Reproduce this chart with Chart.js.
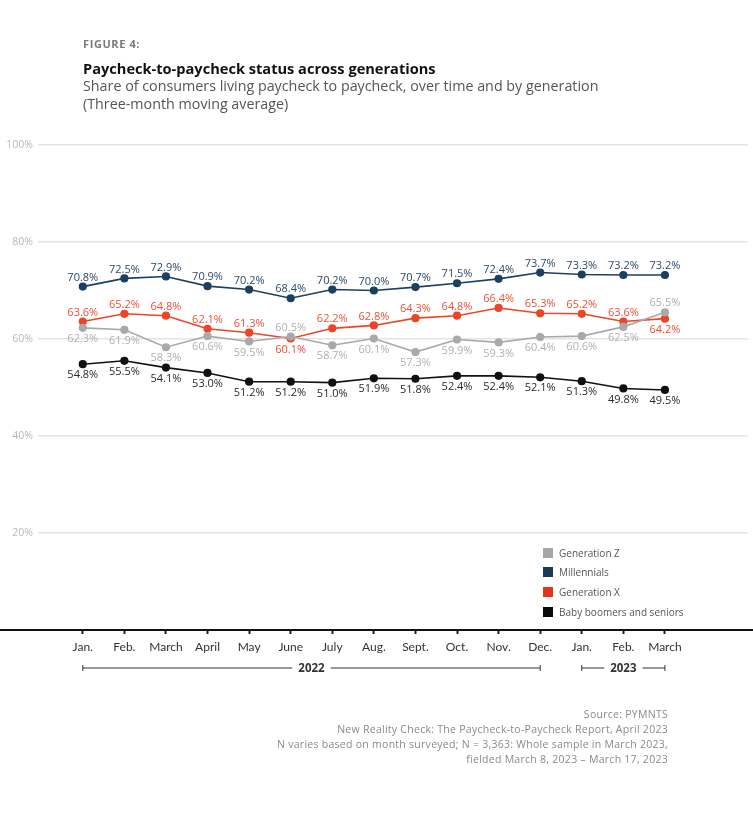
<!DOCTYPE html>
<html>
<head>
<meta charset="utf-8">
<script src="https://cdn.jsdelivr.net/npm/chart.js@4.4.0/dist/chart.umd.min.js"></script>
<style>
  html, body { margin: 0; padding: 0; background: #fff; }
  body { width: 753px; height: 820px; position: relative; overflow: hidden; font-family: "Open Sans", sans-serif; }
  #chartWrap { position: absolute; left: 0; top: 0; width: 753px; height: 820px; }
  .fig { position: absolute; left: 83px; top: 36px; font-size: 11px; font-weight: 700; color: #7a7a7a; letter-spacing: 0.6px; }
  .title { position: absolute; left: 83px; top: 58px; font-size: 14.6px; font-weight: 700; color: #111; }
  .sub { position: absolute; left: 83px; top: 77px; font-size: 14.3px; color: #555; line-height: 18px; }
  .legend { position: absolute; left: 543px; top: 543px; font-size: 10px; color: #555; }
  .legend div { height: 19.6px; display: flex; align-items: center; }
  .legend span.sw { display: inline-block; width: 10px; height: 10px; margin-right: 6px; }
  .source { position: absolute; right: 85px; top: 707px; text-align: right; font-size: 10.55px; color: #8a8a8a; line-height: 15px; letter-spacing: 0.25px; }
</style>
</head>
<body>
<div id="chartWrap"><canvas id="c" width="753" height="820"></canvas></div>
<div class="fig">FIGURE 4:</div>
<div class="title">Paycheck-to-paycheck status across generations</div>
<div class="sub">Share of consumers living paycheck to paycheck, over time and by generation<br>(Three-month moving average)</div>
<div class="legend" id="legend"></div>
<div class="source">Source: PYMNTS<br>New Reality Check: The Paycheck-to-Paycheck Report, April 2023<br>N varies based on month surveyed; N = 3,363: Whole sample in March 2023,<br>fielded March 8, 2023 – March 17, 2023</div>
<script>
const months = ['Jan.','Feb.','March','April','May','June','July','Aug.','Sept.','Oct.','Nov.','Dec.','Jan.','Feb.','March'];
const genZ = [62.3,61.9,58.3,60.6,59.5,60.5,58.7,60.1,57.3,59.9,59.3,60.4,60.6,62.5,65.5];
const millennials = [70.8,72.5,72.9,70.9,70.2,68.4,70.2,70.0,70.7,71.5,72.4,73.7,73.3,73.2,73.2];
const genX = [63.6,65.2,64.8,62.1,61.3,60.1,62.2,62.8,64.3,64.8,66.4,65.3,65.2,63.6,64.2];
const boomers = [54.8,55.5,54.1,53.0,51.2,51.2,51.0,51.9,51.8,52.4,52.4,52.1,51.3,49.8,49.5];
const yTicks = [20,40,60,80,100];
const yearGroups = [{label:'2022', from:0, to:11},{label:'2023', from:12, to:14}];

const seriesDefs = [
  {name:'Generation Z', data: genZ, color:'#a9a9a9', labelColor:'#b0b0b0', swatch:'#a6a6a6',
   pos: (i) => genZ[i] > genX[i] ? 'above' : 'below'},
  {name:'Millennials', data: millennials, color:'#1d3f60', labelColor:'#2c4a68', swatch:'#163a5c',
   pos: () => 'above'},
  {name:'Generation X', data: genX, color:'#ec4527', labelColor:'#ef4f33', swatch:'#e5361c',
   pos: (i) => genX[i] >= genZ[i] ? 'above' : 'below'},
  {name:'Baby boomers and seniors', data: boomers, color:'#111111', labelColor:'#2a2a2a', swatch:'#0a0a0a',
   pos: () => 'below'}
];

// legend
const lg = document.getElementById('legend');
seriesDefs.forEach(s => {
  const d = document.createElement('div');
  d.innerHTML = '<span class="sw" style="background:' + s.swatch + '"></span>' + s.name;
  lg.appendChild(d);
});

const drawOrder = [3,0,2,1];
const datasets = drawOrder.map(k => {
  const s = seriesDefs[k];
  return {
    label: s.name,
    data: s.data.map((v,i) => ({x:i, y:v})),
    borderColor: s.color,
    backgroundColor: s.color,
    pointBackgroundColor: s.color,
    pointBorderColor: s.color,
    borderWidth: 1.6,
    pointRadius: 3.3,
    pointHoverRadius: 3.3,
    tension: 0,
    _def: s
  };
});

const decoPlugin = {
  id: 'deco',
  beforeDatasetsDraw(chart) {
    const ctx = chart.ctx;
    const y = chart.scales.y.getPixelForValue(0);
    ctx.save();
    ctx.strokeStyle = '#111';
    ctx.lineWidth = 2;
    ctx.beginPath();
    ctx.moveTo(0, y); ctx.lineTo(chart.width, y);
    ctx.stroke();
    // year brackets
    const xs = chart.scales.x;
    const by = y + 38;
    ctx.font = 'bold 11.5px "Open Sans", sans-serif';
    ctx.textAlign = 'center';
    ctx.textBaseline = 'middle';
    ctx.lineWidth = 1;
    ctx.strokeStyle = '#333';
    ctx.fillStyle = '#333';
    yearGroups.forEach(g => {
      const x1 = xs.getPixelForValue(g.from), x2 = xs.getPixelForValue(g.to);
      const mid = (x1 + x2) / 2;
      const tw = ctx.measureText(g.label).width / 2 + 6;
      ctx.beginPath();
      ctx.moveTo(x1, by); ctx.lineTo(mid - tw, by);
      ctx.moveTo(mid + tw, by); ctx.lineTo(x2, by);
      ctx.moveTo(x1, by - 3); ctx.lineTo(x1, by + 3);
      ctx.moveTo(x2, by - 3); ctx.lineTo(x2, by + 3);
      ctx.stroke();
      ctx.fillText(g.label, mid, by + 0.5);
    });
    ctx.restore();
  },
  afterDatasetsDraw(chart) {
    const ctx = chart.ctx;
    ctx.save();
    ctx.font = '500 11px "Open Sans", sans-serif';
    ctx.textAlign = 'center';
    chart.data.datasets.forEach((ds, di) => {
      const meta = chart.getDatasetMeta(di);
      const s = ds._def;
      ctx.fillStyle = s.labelColor;
      meta.data.forEach((pt, i) => {
        const v = s.data[i];
        const txt = v.toFixed(1) + '%';
        if (s.pos(i) === 'above') {
          ctx.textBaseline = 'bottom';
          ctx.fillText(txt, pt.x, pt.y - 3.5);
        } else {
          ctx.textBaseline = 'top';
          ctx.fillText(txt, pt.x, pt.y + 5.5);
        }
      });
    });
    ctx.restore();
  }
};

new Chart(document.getElementById('c'), {
  type: 'line',
  data: { datasets },
  options: {
    responsive: false,
    animation: false,
    events: [],
    layout: { padding: { left: 0, right: 1, top: 145, bottom: 150 } },
    plugins: { legend: { display: false }, tooltip: { enabled: false } },
    scales: {
      x: {
        type: 'linear',
        min: -1.077,
        max: 16.0,
        afterBuildTicks: (scale) => { scale.ticks = months.map((m,i) => ({value: i})); },
        afterFit: (scale) => { scale.height = 40; },
        border: { display: false },
        grid: { drawOnChartArea: false, drawTicks: true, tickLength: 4, tickColor: '#222', tickWidth: 2 },
        ticks: {
          autoSkip: false,
          maxRotation: 0,
          padding: 6,
          color: '#333',
          font: { family: 'Lato', size: 12 },
          callback: (v) => months[v] ?? ''
        }
      },
      y: {
        min: 0,
        max: 100,
        afterBuildTicks: (scale) => { scale.ticks = [0].concat(yTicks).map(v => ({value: v})); },
        afterFit: (scale) => { scale.width = 38; },
        border: { display: false },
        grid: {
          drawTicks: false,
          lineWidth: 1.5,
          color: (c) => c.tick && c.tick.value === 0 ? 'rgba(0,0,0,0)' : '#e4e4e4'
        },
        ticks: {
          padding: 5,
          color: '#b8b8b8',
          font: { family: 'Open Sans', size: 10.5 },
          callback: (v) => v === 0 ? '' : v + '%'
        }
      }
    }
  },
  plugins: [decoPlugin]
});
</script>
</body>
</html>
